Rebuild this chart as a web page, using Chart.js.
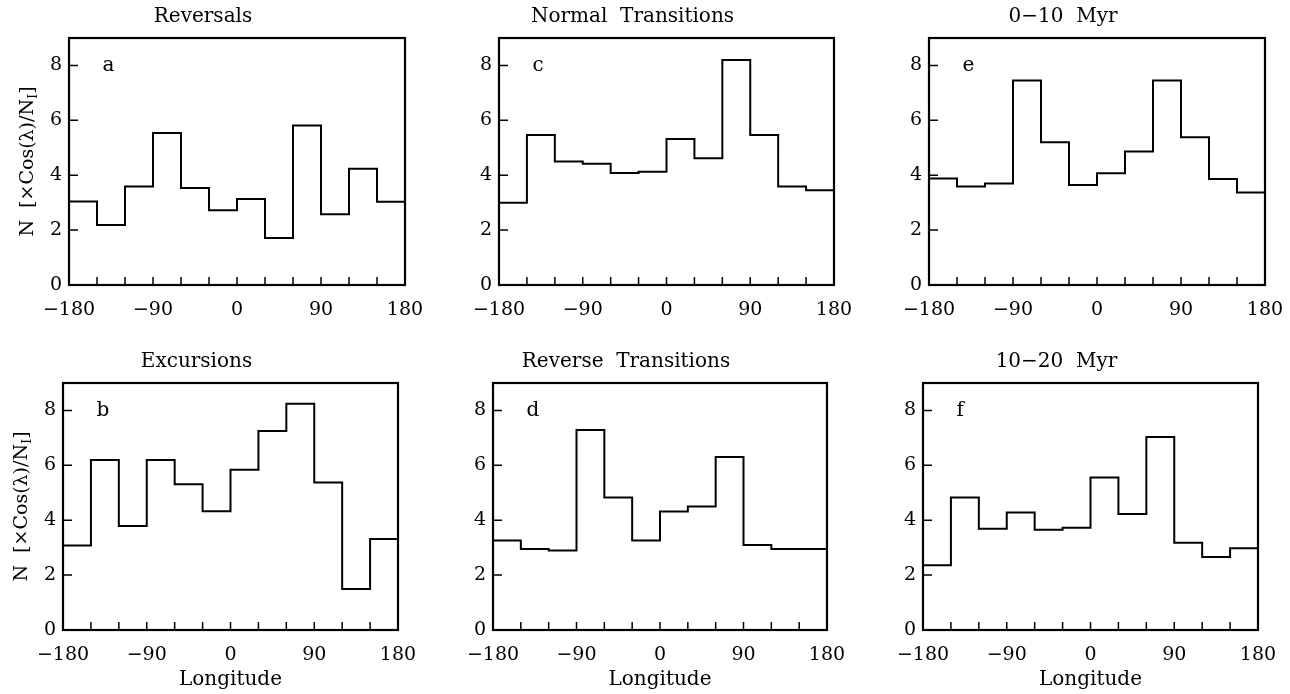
<!DOCTYPE html>
<html>
<head>
<meta charset="utf-8">
<script src="https://cdn.jsdelivr.net/npm/chart.js@4/dist/chart.umd.min.js"></script>
<style>
  html, body { margin: 0; padding: 0; background: #fff; }
  body { width: 1290px; height: 694px; position: relative; overflow: hidden; }
  .panel { position: absolute; }
</style>
</head>
<body>
<div class="panel" id="pa"><canvas id="cA"></canvas></div>
<div class="panel" id="pc"><canvas id="cC"></canvas></div>
<div class="panel" id="pe"><canvas id="cE"></canvas></div>
<div class="panel" id="pb"><canvas id="cB"></canvas></div>
<div class="panel" id="pd"><canvas id="cD"></canvas></div>
<div class="panel" id="pf"><canvas id="cF"></canvas></div>
<script>
// longitude bin edges (30 degree bins)
const lonEdges = [-180, -150, -120, -90, -60, -30, 0, 30, 60, 90, 120, 150, 180];
const xTickLabels = [-180, -90, 0, 90, 180];
const yTickLabels = [0, 2, 4, 6, 8];

// N [x cos(lambda) / N_I] per bin
const reversals = [3.04, 2.19, 3.59, 5.54, 3.53, 2.72, 3.13, 1.71, 5.81, 2.58, 4.24, 3.03];
const excursions = [3.08, 6.19, 3.79, 6.19, 5.31, 4.33, 5.84, 7.25, 8.24, 5.37, 1.49, 3.32];
const normalTransitions = [3.00, 5.47, 4.50, 4.42, 4.08, 4.13, 5.32, 4.62, 8.20, 5.47, 3.59, 3.45];
const reverseTransitions = [3.26, 2.95, 2.90, 7.29, 4.83, 3.26, 4.32, 4.50, 6.30, 3.10, 2.95, 2.95];
const age0to10 = [3.88, 3.59, 3.70, 7.45, 5.20, 3.64, 4.07, 4.86, 7.45, 5.38, 3.86, 3.37];
const age10to20 = [2.36, 4.83, 3.69, 4.28, 3.65, 3.73, 5.56, 4.23, 7.03, 3.18, 2.66, 2.98];

const FONT = "'DejaVu Serif', 'Liberation Serif', serif";
const LEFT_W = 68, TITLE_H = 38, RIGHT_PAD = 36;

// plot-area boxes for each panel on the page
const panels = [
  { el: 'pa', canvas: 'cA', title: 'Reversals', letter: 'a', values: reversals, box: [69, 38, 405, 285], xlabel: false, yTitle: true },
  { el: 'pc', canvas: 'cC', title: 'Normal  Transitions', letter: 'c', values: normalTransitions, box: [499, 38, 834, 285], xlabel: false, yTitle: false },
  { el: 'pe', canvas: 'cE', title: '0\u221210  Myr', letter: 'e', values: age0to10, box: [929, 38, 1265, 285], xlabel: false, yTitle: false },
  { el: 'pb', canvas: 'cB', title: 'Excursions', letter: 'b', values: excursions, box: [63, 383, 398, 630], xlabel: true, yTitle: true },
  { el: 'pd', canvas: 'cD', title: 'Reverse  Transitions', letter: 'd', values: reverseTransitions, box: [493, 383, 827, 630], xlabel: true, yTitle: false },
  { el: 'pf', canvas: 'cF', title: '10\u221220  Myr', letter: 'f', values: age10to20, box: [923, 383, 1258, 630], xlabel: true, yTitle: false },
];

// frame, inward ticks, panel letter and the y-axis label with subscript
const framePlugin = {
  id: 'frame',
  afterDraw(chart, args, opts) {
    const { ctx, chartArea: a, scales: { x, y } } = chart;
    ctx.save();
    ctx.strokeStyle = '#000';
    ctx.lineWidth = 1.5;
    ctx.beginPath();
    lonEdges.slice(1, -1).forEach(v => {
      const px = x.getPixelForValue(v);
      ctx.moveTo(px, a.bottom);
      ctx.lineTo(px, a.bottom - 8);
    });
    yTickLabels.slice(1).forEach(v => {
      const py = y.getPixelForValue(v);
      ctx.moveTo(a.left, py);
      ctx.lineTo(a.left + 9, py);
    });
    ctx.stroke();

    ctx.lineWidth = 2.2;
    ctx.strokeRect(a.left, a.top, a.right - a.left, a.bottom - a.top);

    ctx.fillStyle = '#000';
    ctx.font = '20px ' + FONT;
    ctx.textBaseline = 'middle';
    ctx.textAlign = 'left';
    ctx.fillText(opts.letter, x.getPixelForValue(-144), y.getPixelForValue(8));

    if (opts.yTitle) {
      const main = 'N  [\u00d7Cos(\u03bb)/N';
      const sub = 'I';
      const tail = ']';
      ctx.font = '19px ' + FONT;
      const wMain = ctx.measureText(main).width;
      const wTail = ctx.measureText(tail).width;
      ctx.font = '13px ' + FONT;
      const wSub = ctx.measureText(sub).width;
      const total = wMain + wSub + wTail;
      ctx.translate(a.left - 41, (a.top + a.bottom) / 2);
      ctx.rotate(-Math.PI / 2);
      let cx = -total / 2;
      ctx.font = '19px ' + FONT;
      ctx.fillText(main, cx, 0);
      cx += wMain;
      ctx.font = '13px ' + FONT;
      ctx.fillText(sub, cx, 6);
      cx += wSub;
      ctx.font = '19px ' + FONT;
      ctx.fillText(tail, cx, 0);
    }
    ctx.restore();
  }
};

function fmt(v) {
  return v < 0 ? '\u2212' + Math.abs(v) : String(v);
}

panels.forEach(p => {
  const [l, t, r, b] = p.box;
  const bottomH = p.xlabel ? 62 : 35;
  const div = document.getElementById(p.el);
  div.style.left = (l - LEFT_W) + 'px';
  div.style.top = (t - TITLE_H) + 'px';
  div.style.width = (r - l + LEFT_W + RIGHT_PAD) + 'px';
  div.style.height = (b - t + TITLE_H + bottomH) + 'px';

  const points = lonEdges.map((lon, i) => ({ x: lon, y: p.values[Math.min(i, p.values.length - 1)] }));

  new Chart(document.getElementById(p.canvas), {
    type: 'line',
    data: {
      datasets: [{
        data: points,
        stepped: true,
        borderColor: '#000',
        borderWidth: 2,
        pointRadius: 0,
        fill: false
      }]
    },
    options: {
      responsive: true,
      maintainAspectRatio: false,
      animation: false,
      layout: { padding: { top: 0, left: 0, right: RIGHT_PAD, bottom: 0 } },
      plugins: {
        legend: { display: false },
        tooltip: { enabled: false },
        title: {
          display: true,
          text: p.title,
          color: '#000',
          font: { family: FONT, size: 20, weight: 'normal' },
          padding: { top: 5, bottom: 9 }
        },
        frame: { letter: p.letter, yTitle: p.yTitle }
      },
      scales: {
        x: {
          type: 'linear',
          min: -180,
          max: 180,
          grid: { display: false, drawTicks: false },
          border: { display: false },
          afterBuildTicks: s => { s.ticks = xTickLabels.map(v => ({ value: v })); },
          afterFit: s => { s.height = bottomH; },
          ticks: {
            color: '#000',
            padding: 14,
            maxRotation: 0,
            autoSkip: false,
            font: { family: FONT, size: 19 },
            callback: v => fmt(v)
          },
          title: {
            display: p.xlabel,
            text: 'Longitude',
            color: '#000',
            font: { family: FONT, size: 20 },
            padding: { top: 0, bottom: 0 }
          }
        },
        y: {
          min: 0,
          max: 9,
          grid: { display: false, drawTicks: false },
          border: { display: false },
          afterBuildTicks: s => { s.ticks = yTickLabels.map(v => ({ value: v })); },
          afterFit: s => { s.width = LEFT_W; },
          ticks: {
            color: '#000',
            padding: 7,
            font: { family: FONT, size: 19 },
            callback: v => fmt(v)
          }
        }
      }
    },
    plugins: [framePlugin]
  });
});
</script>
</body>
</html>
